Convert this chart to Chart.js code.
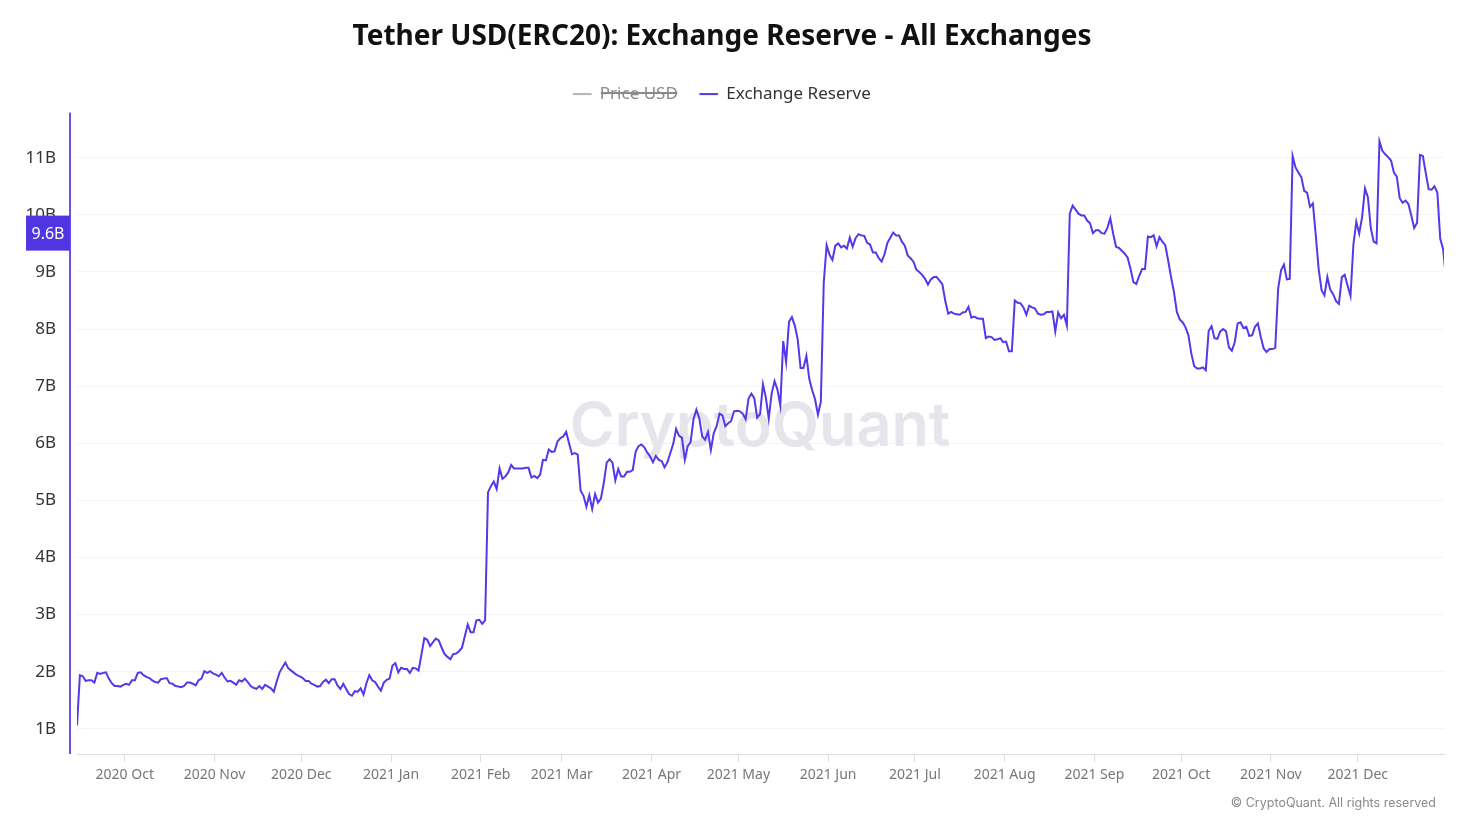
<!DOCTYPE html>
<html>
<head>
<meta charset="utf-8">
<title>Tether USD(ERC20): Exchange Reserve</title>
<script src="https://cdn.jsdelivr.net/npm/chart.js@4/dist/chart.umd.min.js"></script>
<style>
    html, body { margin: 0; padding: 0; background: #fff; overflow: hidden; }
    canvas { display: block; }
</style>
</head>
<body>
<canvas id="chart" width="1468" height="822"></canvas>
<script>
// daily reserve in billions, one array per month
var sep2020 = [1.06,1.94,1.92,1.84,1.85,1.85,1.81,1.98,1.96,1.98,1.99,1.88,1.80,1.75,1.75,1.74,1.77];
var oct2020 = [1.79,1.77,1.85,1.85,1.98,1.99,1.94,1.91,1.89,1.85,1.82,1.81,1.87,1.88,1.89,1.80,1.79,1.75,1.74,1.73,1.75,1.81,1.81,1.79,1.76,1.85,1.88,2.01,1.98,2.01,1.97];
var nov2020 = [1.95,1.92,1.98,1.90,1.83,1.84,1.81,1.77,1.85,1.83,1.88,1.82,1.75,1.72,1.70,1.75,1.70,1.77,1.74,1.71,1.65,1.83,1.99,2.08,2.16,2.06,2.02,1.98,1.94,1.92];
var dec2020 = [1.89,1.84,1.84,1.79,1.77,1.74,1.75,1.82,1.86,1.80,1.87,1.87,1.76,1.70,1.79,1.70,1.61,1.58,1.66,1.65,1.71,1.60,1.80,1.94,1.85,1.82,1.74,1.67,1.81,1.86,1.88];
var jan2021 = [2.11,2.15,1.99,2.07,2.05,2.05,1.98,2.07,2.06,2.02,2.30,2.59,2.56,2.45,2.52,2.58,2.55,2.42,2.31,2.26,2.22,2.31,2.32,2.36,2.42,2.62,2.83,2.69,2.69,2.90,2.91];
var feb2021 = [2.84,2.90,5.14,5.25,5.33,5.20,5.56,5.38,5.42,5.49,5.62,5.56,5.56,5.56,5.56,5.57,5.57,5.40,5.43,5.39,5.45,5.71,5.70,5.89,5.85,5.86,6.03,6.09];
var mar2021 = [6.12,6.20,6.00,5.81,5.83,5.80,5.17,5.08,4.89,5.09,4.85,5.11,4.96,5.03,5.30,5.66,5.72,5.66,5.35,5.55,5.42,5.42,5.50,5.50,5.53,5.85,5.95,5.98,5.93,5.84,5.77];
var apr2021 = [5.67,5.78,5.71,5.69,5.58,5.67,5.83,5.99,6.25,6.13,6.10,5.71,5.95,6.02,6.42,6.59,6.44,6.12,6.06,6.20,5.88,6.18,6.30,6.52,6.49,6.30,6.35,6.39,6.56,6.57];
var may2021 = [6.56,6.52,6.42,6.78,6.87,6.79,6.45,6.51,7.03,6.80,6.43,6.87,7.09,6.94,6.66,7.79,7.42,8.13,8.21,8.06,7.82,7.32,7.32,7.53,7.13,6.93,6.77,6.50,6.73,8.81,9.47];
var jun2021 = [9.30,9.21,9.46,9.50,9.43,9.46,9.41,9.60,9.44,9.59,9.66,9.64,9.63,9.51,9.48,9.34,9.34,9.24,9.18,9.31,9.51,9.60,9.69,9.64,9.64,9.53,9.46,9.29,9.24,9.18];
var jul2021 = [9.04,9.00,8.95,8.88,8.78,8.87,8.91,8.91,8.85,8.78,8.49,8.27,8.30,8.27,8.26,8.25,8.29,8.30,8.39,8.20,8.22,8.19,8.18,8.18,7.84,7.87,7.86,7.81,7.82,7.84,7.77];
var aug2021 = [7.78,7.61,7.61,8.50,8.46,8.45,8.38,8.25,8.41,8.38,8.36,8.27,8.25,8.26,8.30,8.30,8.31,7.96,8.29,8.19,8.25,8.06,10.02,10.16,10.09,10.02,9.99,9.99,9.90,9.85,9.68];
var sep2021 = [9.73,9.73,9.68,9.67,9.77,9.94,9.67,9.44,9.42,9.37,9.32,9.25,9.05,8.82,8.79,8.93,9.05,9.05,9.62,9.61,9.64,9.45,9.61,9.53,9.47,9.20,8.91,8.65,8.30,8.17];
var oct2021 = [8.12,8.03,7.89,7.57,7.35,7.31,7.31,7.33,7.28,7.97,8.05,7.84,7.83,7.96,8.00,7.96,7.68,7.62,7.77,8.10,8.12,8.02,8.04,7.88,7.89,8.04,8.10,7.86,7.66,7.60,7.65];
var nov2021 = [7.65,7.67,8.71,9.03,9.13,8.87,8.88,11.03,10.83,10.74,10.66,10.42,10.39,10.14,10.20,9.64,9.05,8.68,8.59,8.91,8.69,8.61,8.49,8.44,8.91,8.95,8.76,8.58,9.48,9.88];
var dec2021 = [9.67,9.96,10.46,10.31,9.77,9.53,9.50,11.29,11.12,11.06,11.01,10.95,10.74,10.67,10.29,10.21,10.25,10.19,9.99,9.77,9.86,11.05,11.03,10.73,10.45,10.44,10.50,10.39,9.58,9.40,8.88];

var reserve = [].concat(sep2020, oct2020, nov2020, dec2020, jan2021, feb2021, mar2021, apr2021, may2021, jun2021, jul2021, aug2021, sep2021, oct2021, nov2021, dec2021);

// days since the first point, ticks sit half a day before the 1st of the month
var monthDays = [16.5,47.5,77.5,108.5,139.5,167.5,198.5,228.5,259.5,289.5,320.5,351.5,381.5,412.5,442.5];
var monthLabels = ['2020 Oct','2020 Nov','2020 Dec','2021 Jan','2021 Feb','2021 Mar','2021 Apr','2021 May','2021 Jun','2021 Jul','2021 Aug','2021 Sep','2021 Oct','2021 Nov','2021 Dec'];
var lastDay = 472.3;

var cursorValue = 9.68;
var cursorLabel = '9.6B';

var font = '"Noto Sans", sans-serif';
var purple = '#5239ea';

// axis line set apart from the plot, cursor tag, watermark and footer
var extras = {
    id: 'extras',
    beforeDatasetsDraw: function (chart) {
        var ctx = chart.ctx;
        ctx.save();
        ctx.fillStyle = '#e5e5eb';
        ctx.font = '600 61px Inter, sans-serif';
        ctx.textAlign = 'center';
        ctx.textBaseline = 'middle';
        ctx.fillText('CryptoQuant', 760, 428);
        ctx.restore();
    },
    afterDraw: function (chart) {
        var ctx = chart.ctx;
        var area = chart.chartArea;
        var y = chart.scales.y.getPixelForValue(cursorValue);
        ctx.save();
        ctx.fillStyle = '#6a50f0';
        ctx.fillRect(69, area.top, 2, area.bottom - area.top);
        ctx.fillStyle = '#4f36e0';
        ctx.fillRect(26, y - 17.5, 44, 35);
        ctx.fillStyle = '#fff';
        ctx.font = '16px ' + font;
        ctx.textAlign = 'center';
        ctx.textBaseline = 'middle';
        ctx.fillText(cursorLabel, 48, y + 1);
        ctx.fillStyle = '#8a8a8a';
        ctx.font = '12.5px Inter, sans-serif';
        ctx.textAlign = 'right';
        ctx.fillText('\u00a9 CryptoQuant. All rights reserved', 1436, 803);
        ctx.restore();
    }
};

new Chart(document.getElementById('chart'), {
    type: 'line',
    plugins: [extras],
    data: {
        datasets: [
            { label: 'Price USD', data: [], hidden: true, borderColor: '#b5b5b5' },
            {
                label: 'Exchange Reserve',
                data: reserve.map(function (v, i) { return { x: i, y: v }; }),
                borderColor: purple,
                borderWidth: 2,
                pointRadius: 0,
                tension: 0
            }
        ]
    },
    options: {
        responsive: false,
        animation: false,
        layout: { padding: { left: 0, right: 24, top: 0, bottom: 0 } },
        plugins: {
            title: {
                display: true,
                text: 'Tether USD(ERC20): Exchange Reserve - All Exchanges',
                color: '#111',
                font: { family: font, size: 28, weight: 'bold' },
                padding: { top: 20, bottom: 10 }
            },
            legend: {
                display: true,
                onClick: null,
                labels: {
                    font: { family: font, size: 17 },
                    boxWidth: 18,
                    boxHeight: 1,
                    padding: 22,
                    generateLabels: function (chart) {
                        return chart.data.datasets.map(function (d, i) {
                            return {
                                text: d.label,
                                datasetIndex: i,
                                hidden: !!d.hidden,
                                fillStyle: d.borderColor,
                                strokeStyle: d.borderColor,
                                lineWidth: 1,
                                fontColor: d.hidden ? '#8a8a8a' : '#333'
                            };
                        });
                    }
                }
            },
            tooltip: { enabled: false }
        },
        scales: {
            x: {
                type: 'linear',
                min: 0,
                max: lastDay,
                afterBuildTicks: function (scale) {
                    scale.ticks = monthDays.map(function (d) { return { value: d }; });
                },
                afterFit: function (scale) { scale.height = 68; },
                grid: { drawOnChartArea: false, color: '#dcdce2', tickLength: 8 },
                border: { color: '#dcdce2', width: 1 },
                ticks: {
                    autoSkip: false,
                    maxRotation: 0,
                    color: '#777',
                    font: { family: font, size: 14 },
                    padding: 5,
                    callback: function (v) { return monthLabels[monthDays.indexOf(v)]; }
                }
            },
            y: {
                min: 0.56,
                max: 11.79,
                afterFit: function (scale) { scale.width = 77; },
                grid: { color: '#f4f4f6', drawTicks: false },
                border: { display: false },
                ticks: {
                    stepSize: 1,
                    includeBounds: false,
                    color: '#333',
                    font: { family: font, size: 17 },
                    padding: 21,
                    callback: function (v) { return v + 'B'; }
                }
            }
        }
    }
});
</script>
</body>
</html>
